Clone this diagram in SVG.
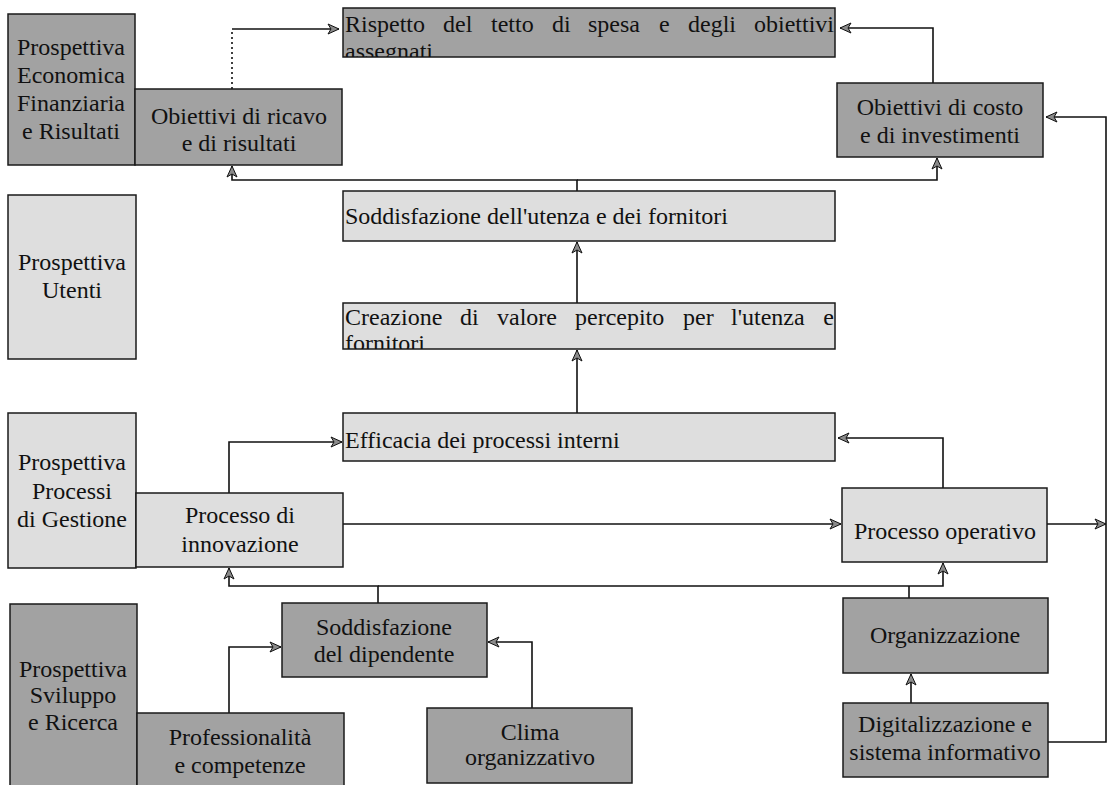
<svg xmlns="http://www.w3.org/2000/svg" width="1108" height="785" viewBox="0 0 1108 785">
<style>
.dark{fill:#a2a2a2;stroke:#1a1a1a;stroke-width:1.5}
.light{fill:#dedede;stroke:#1a1a1a;stroke-width:1.5}
text{font-family:"Liberation Serif","Times New Roman",serif;font-size:24px;fill:#111}
.c{text-anchor:middle}
.e{text-anchor:end}
.conn{fill:none;stroke:#111;stroke-width:1.6}
.dot{fill:none;stroke:#111;stroke-width:1.6;stroke-dasharray:2 3}
</style>
<defs>
<marker id="arr" markerUnits="userSpaceOnUse" markerWidth="14" markerHeight="12" refX="12" refY="6" orient="auto">
<path d="M1,1 L12,6 L1,11 L4,6 Z" fill="#8a8a8a" stroke="#111" stroke-width="1"/>
</marker>
<clipPath id="clipC"><rect x="343" y="8" width="492" height="49"/></clipPath>
<clipPath id="clipF"><rect x="343" y="303" width="492" height="46"/></clipPath>
</defs>
<rect width="1108" height="785" fill="#ffffff"/>

<g id="connectors">
<path class="dot" d="M232,89 L232,29"/>
<path class="conn" d="M232,29 L339,29" marker-end="url(#arr)"/>
<path class="conn" d="M933,83 L933,28 L840,28" marker-end="url(#arr)"/>
<path class="conn" d="M1048,742 L1106,742 L1106,117 L1046,117" marker-end="url(#arr)"/>
<path class="conn" d="M577,191 L577,180 L232,180 L232,166" marker-end="url(#arr)"/>
<path class="conn" d="M577,180 L937,180 L937,158" marker-end="url(#arr)"/>
<path class="conn" d="M577,303 L577,242" marker-end="url(#arr)"/>
<path class="conn" d="M577,413 L577,350" marker-end="url(#arr)"/>
<path class="conn" d="M229,493 L229,442 L342,442" marker-end="url(#arr)"/>
<path class="conn" d="M343,524 L841,524" marker-end="url(#arr)"/>
<path class="conn" d="M1047,524 L1106,524" marker-end="url(#arr)"/>
<path class="conn" d="M943,488 L943,438 L838,438" marker-end="url(#arr)"/>
<path class="conn" d="M378,603 L378,586 L229,586 L229,568" marker-end="url(#arr)"/>
<path class="conn" d="M378,586 L943,586 L943,563" marker-end="url(#arr)"/>
<path class="conn" d="M909,598 L909,586"/>
<path class="conn" d="M229,713 L229,647 L281,647" marker-end="url(#arr)"/>
<path class="conn" d="M532,708 L532,642 L488,642" marker-end="url(#arr)"/>
<path class="conn" d="M911,703 L911,674" marker-end="url(#arr)"/>
</g>

<g id="persp-economica">
<rect class="dark" x="8" y="14" width="127" height="151"/>
<text class="c" x="71" y="55">Prospettiva</text>
<text class="c" x="71" y="83">Economica</text>
<text class="c" x="71" y="111">Finanziaria</text>
<text class="c" x="71" y="139">e Risultati</text>
</g>
<g id="obiettivi-ricavo">
<rect class="dark" x="135" y="89" width="207" height="76"/>
<text class="c" x="239" y="124">Obiettivi di ricavo</text>
<text class="c" x="239" y="151">e di risultati</text>
</g>
<g id="rispetto-tetto">
<rect class="dark" x="343" y="8" width="492" height="49"/>
<g clip-path="url(#clipC)">
<text x="345" y="32">Rispetto</text>
<text x="443" y="32">del</text>
<text x="491" y="32">tetto</text>
<text x="552" y="32">di</text>
<text x="588" y="32">spesa</text>
<text x="659" y="32">e</text>
<text x="688" y="32">degli</text>
<text class="e" x="834" y="32">obiettivi</text>
<text x="345" y="59">assegnati</text>
</g>
</g>
<g id="obiettivi-costo">
<rect class="dark" x="837" y="83" width="206" height="74"/>
<text class="c" x="940" y="115">Obiettivi di costo</text>
<text class="c" x="940" y="143">e di investimenti</text>
</g>

<g id="persp-utenti">
<rect class="light" x="8" y="195" width="128" height="164"/>
<text class="c" x="72" y="270">Prospettiva</text>
<text class="c" x="72" y="298">Utenti</text>
</g>
<g id="soddisfazione-utenza">
<rect class="light" x="343" y="191" width="492" height="50"/>
<text x="345" y="224">Soddisfazione dell'utenza e dei fornitori</text>
</g>
<g id="creazione-valore">
<rect class="light" x="343" y="303" width="492" height="46"/>
<g clip-path="url(#clipF)">
<text x="345" y="325">Creazione</text>
<text x="460" y="325">di</text>
<text x="497" y="325">valore</text>
<text x="575" y="325">percepito</text>
<text x="683" y="325">per</text>
<text x="731" y="325">l'utenza</text>
<text class="e" x="834" y="325">e</text>
<text x="345" y="351">fornitori</text>
</g>
</g>
<g id="efficacia">
<rect class="light" x="343" y="413" width="492" height="48"/>
<text x="345" y="448">Efficacia dei processi interni</text>
</g>

<g id="persp-processi">
<rect class="light" x="8" y="413" width="128" height="155"/>
<text class="c" x="72" y="470">Prospettiva</text>
<text class="c" x="72" y="499">Processi</text>
<text class="c" x="72" y="527">di Gestione</text>
</g>
<g id="processo-innovazione">
<rect class="light" x="136" y="493" width="207" height="74"/>
<text class="c" x="240" y="523">Processo di</text>
<text class="c" x="240" y="552">innovazione</text>
</g>
<g id="processo-operativo">
<rect class="light" x="842" y="488" width="205" height="74"/>
<text class="c" x="945" y="539">Processo operativo</text>
</g>

<g id="persp-sviluppo">
<rect class="dark" x="10" y="604" width="127" height="185"/>
<text class="c" x="73" y="677">Prospettiva</text>
<text class="c" x="73" y="703">Sviluppo</text>
<text class="c" x="73" y="730">e Ricerca</text>
</g>
<g id="soddisfazione-dipendente">
<rect class="dark" x="282" y="603" width="205" height="74"/>
<text class="c" x="384" y="635">Soddisfazione</text>
<text class="c" x="384" y="662">del dipendente</text>
</g>
<g id="professionalita">
<rect class="dark" x="137" y="713" width="207" height="76"/>
<text class="c" x="240" y="745">Professionalità</text>
<text class="c" x="240" y="773">e competenze</text>
</g>
<g id="clima">
<rect class="dark" x="427" y="708" width="205" height="75"/>
<text class="c" x="530" y="740">Clima</text>
<text class="c" x="530" y="765">organizzativo</text>
</g>
<g id="organizzazione">
<rect class="dark" x="843" y="598" width="205" height="75"/>
<text class="c" x="945" y="643">Organizzazione</text>
</g>
<g id="digitalizzazione">
<rect class="dark" x="843" y="703" width="205" height="74"/>
<text class="c" x="945" y="732">Digitalizzazione e</text>
<text class="c" x="945" y="760">sistema informativo</text>
</g>
</svg>
